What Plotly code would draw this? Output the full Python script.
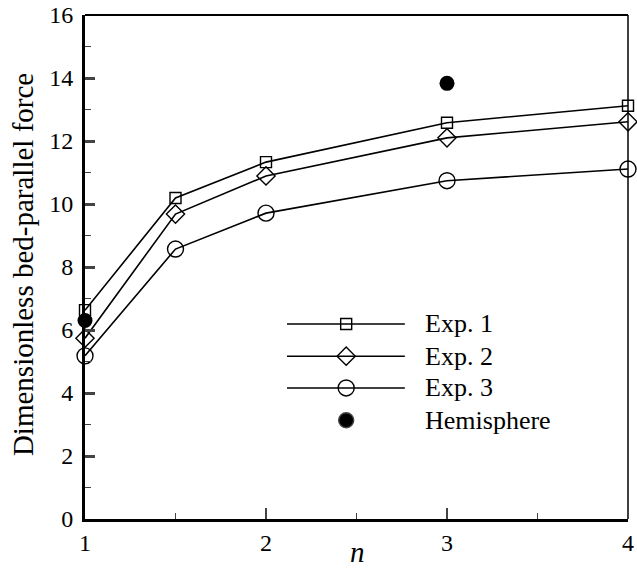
import plotly.graph_objects as go

n_vals = [1, 1.5, 2, 3, 4]
exp1 = [6.63, 10.19, 11.33, 12.58, 13.12]
exp2 = [5.74, 9.68, 10.89, 12.10, 12.61]
exp3 = [5.18, 8.57, 9.71, 10.74, 11.11]
hemi_n = [1, 3]
hemi_f = [6.30, 13.83]

series_names = ["Exp. 1", "Exp. 2", "Exp. 3", "Hemisphere"]
x_ticks = [1, 2, 3, 4]
y_ticks = [0, 2, 4, 6, 8, 10, 12, 14, 16]

FONT = "Liberation Serif"
fig = go.Figure()

styles = [("square-open", 11), ("diamond-open", 14), ("circle-open", 16)]
for name, ys, (sym, sz) in zip(series_names[:3], [exp1, exp2, exp3], styles):
    fig.add_trace(go.Scatter(
        x=n_vals, y=ys, mode="lines+markers", name=name,
        line=dict(color="black", width=1.6),
        marker=dict(symbol=sym, size=sz, color="black", line=dict(width=1.4)),
        cliponaxis=False, showlegend=False))

fig.add_trace(go.Scatter(
    x=hemi_n, y=hemi_f, mode="markers", name=series_names[3],
    marker=dict(symbol="circle", size=15, color="black"),
    cliponaxis=False, showlegend=False))

# manual legend
leg_y = [0.387, 0.323, 0.260, 0.196]
leg_syms = [("square-open", 11), ("diamond-open", 14), ("circle-open", 16), ("circle", 15)]
for i, (name, (sym, sz)) in enumerate(zip(series_names, leg_syms)):
    if i < 3:
        fig.add_shape(type="line", xref="paper", yref="paper",
                      x0=0.372, x1=0.589, y0=leg_y[i], y1=leg_y[i],
                      line=dict(color="black", width=1.6))
    fig.add_trace(go.Scatter(
        x=[0.481], y=[leg_y[i]], xaxis="x2", yaxis="y2", mode="markers",
        marker=dict(symbol=sym, size=sz, color="black", line=dict(width=1.4)),
        showlegend=False, hoverinfo="skip"))
    fig.add_annotation(x=0.622, y=leg_y[i], xref="paper", yref="paper",
                       text=name, showarrow=False, xanchor="left", yanchor="middle",
                       font=dict(family=FONT, size=26, color="black"))

# axis titles
fig.add_annotation(x=-0.114, y=0.504, xref="paper", yref="paper",
                   text="Dimensionless bed-parallel force", textangle=-90,
                   showarrow=False, xanchor="center", yanchor="middle",
                   font=dict(family=FONT, size=29, color="black"))
fig.add_annotation(x=0.501, y=-0.065, xref="paper", yref="paper",
                   text="<i>n</i>", showarrow=False, xanchor="center", yanchor="middle",
                   font=dict(family=FONT, size=29, color="black"))

# top and right borders
fig.add_shape(type="line", xref="paper", yref="paper", x0=0, x1=1, y0=1, y1=1,
              line=dict(color="black", width=2))
fig.add_shape(type="line", xref="paper", yref="paper", x0=1, x1=1, y0=0, y1=1,
              line=dict(color="black", width=1.5))

fig.update_layout(
    width=637, height=569,
    margin=dict(l=85, r=9, t=15, b=50),
    plot_bgcolor="white", paper_bgcolor="white",
    font=dict(family=FONT, color="black"),
    xaxis=dict(range=[1, 4], tickvals=x_ticks, ticks="inside", ticklen=11, tickwidth=2,
               showline=True, linewidth=3, linecolor="black", showgrid=False, zeroline=False,
               minor=dict(ticks="inside", ticklen=6, tickwidth=1.2, dtick=0.5, tick0=1, showgrid=False),
               tickfont=dict(family=FONT, size=24), automargin=False, ticklabeloverflow="allow"),
    yaxis=dict(range=[0, 16], tickvals=y_ticks, ticks="inside", ticklen=10, tickwidth=2.5,
               showline=True, linewidth=3, linecolor="black", showgrid=False, zeroline=False,
               minor=dict(ticks="inside", ticklen=6, tickwidth=1.2, dtick=1, tick0=0, showgrid=False),
               tickfont=dict(family=FONT, size=24), ticklabelstandoff=4, automargin=False,
               ticklabeloverflow="allow"),
    xaxis2=dict(overlaying="x", range=[0, 1], visible=False),
    yaxis2=dict(overlaying="y", range=[0, 1], visible=False),
)

# remove the page's default 8px body margin so the figure fills the window
fig.write_html("out.html", config={"displayModeBar": False},
               post_script="document.body.style.margin='0';document.body.style.overflow='hidden';")
